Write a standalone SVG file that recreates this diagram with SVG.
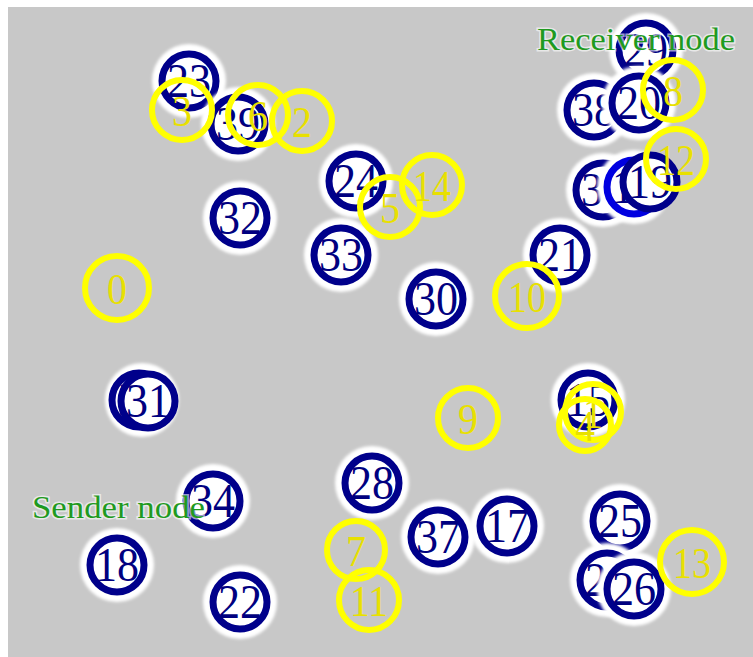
<svg xmlns="http://www.w3.org/2000/svg" width="753" height="657" viewBox="0 0 753 657">
<defs>
<filter id="soft" x="-20%" y="-20%" width="140%" height="140%"><feGaussianBlur stdDeviation="1.5"/></filter>
<style>
.halo{fill:#fff;filter:url(#soft)}
.bn{fill:#fff;stroke:#00008b;stroke-width:7}
.bt{font-family:"Liberation Serif",serif;font-size:48px;fill:#000080;text-anchor:middle}
.yn{fill:none;stroke:#ffff00;stroke-width:6}
.yt{font-family:"Liberation Serif",serif;font-size:44px;fill:#e8e000;text-anchor:middle}
.lab{font-family:"Liberation Serif",serif;fill:#1f9a1f;stroke:#fff;stroke-opacity:0.6;stroke-width:3;paint-order:stroke}
</style>
</defs>
<rect x="0" y="0" width="753" height="657" fill="#fff"/>
<rect x="8" y="7" width="745" height="650" fill="#c8c8c8"/>
<g id="connectors"/>
<g id="blue-nodes">
<g id="n23"><circle class="halo" cx="189" cy="81" r="37"/><circle class="bn" cx="189" cy="81" r="27"/><text class="bt" x="189" y="97" textLength="44" lengthAdjust="spacingAndGlyphs">23</text></g>
<g id="n39"><circle class="halo" cx="238" cy="124" r="37"/><circle class="bn" cx="238" cy="124" r="27"/><text class="bt" x="238" y="140" textLength="44" lengthAdjust="spacingAndGlyphs">39</text></g>
<g id="n32"><circle class="halo" cx="240" cy="218" r="37"/><circle class="bn" cx="240" cy="218" r="27"/><text class="bt" x="240" y="234" textLength="44" lengthAdjust="spacingAndGlyphs">32</text></g>
<g id="n24"><circle class="halo" cx="356" cy="181" r="37"/><circle class="bn" cx="356" cy="181" r="27"/><text class="bt" x="356" y="197" textLength="44" lengthAdjust="spacingAndGlyphs">24</text></g>
<g id="n33"><circle class="halo" cx="341" cy="255" r="37"/><circle class="bn" cx="341" cy="255" r="27"/><text class="bt" x="341" y="271" textLength="44" lengthAdjust="spacingAndGlyphs">33</text></g>
<g id="n30"><circle class="halo" cx="436" cy="299" r="37"/><circle class="bn" cx="436" cy="299" r="27"/><text class="bt" x="436" y="315" textLength="44" lengthAdjust="spacingAndGlyphs">30</text></g>
<g id="n21"><circle class="halo" cx="560" cy="255" r="37"/><circle class="bn" cx="560" cy="255" r="27"/><text class="bt" x="560" y="271" textLength="44" lengthAdjust="spacingAndGlyphs">21</text></g>
<g id="n29"><circle class="halo" cx="646" cy="50" r="37"/><circle class="bn" cx="646" cy="50" r="27"/><text class="bt" x="646" y="66" textLength="44" lengthAdjust="spacingAndGlyphs">29</text></g>
<g id="n38"><circle class="halo" cx="594" cy="110" r="37"/><circle class="bn" cx="594" cy="110" r="27"/><text class="bt" x="594" y="126" textLength="44" lengthAdjust="spacingAndGlyphs">38</text></g>
<g id="n20"><circle class="halo" cx="639" cy="103" r="37"/><circle class="bn" cx="639" cy="103" r="27"/><text class="bt" x="639" y="119" textLength="44" lengthAdjust="spacingAndGlyphs">20</text></g>
<g id="n36"><circle class="halo" cx="603" cy="190" r="37"/><circle class="bn" cx="603" cy="190" r="27"/><text class="bt" x="603" y="206" textLength="44" lengthAdjust="spacingAndGlyphs">36</text></g>
<g id="n16"><circle class="halo" cx="634" cy="187" r="37"/><circle class="bn" cx="634" cy="187" r="27" style="stroke:#0000e0"/><text class="bt" x="634" y="203" textLength="44" lengthAdjust="spacingAndGlyphs">16</text></g>
<g id="n19"><circle class="bn" cx="650" cy="182" r="27"/><text class="bt" x="650" y="198" textLength="44" lengthAdjust="spacingAndGlyphs">19</text></g>
<g id="n35"><circle class="halo" cx="142" cy="400" r="37"/><circle class="bn" cx="139" cy="400" r="27"/><text class="bt" x="140" y="416" textLength="44" lengthAdjust="spacingAndGlyphs">35</text></g>
<g id="n31"><circle class="bn" cx="148" cy="401" r="27"/><text class="bt" x="148" y="417" textLength="44" lengthAdjust="spacingAndGlyphs">31</text></g>
<g id="n15"><circle class="halo" cx="588" cy="400" r="37"/><circle class="bn" cx="588" cy="400" r="27"/><text class="bt" x="588" y="416" textLength="44" lengthAdjust="spacingAndGlyphs">15</text></g>
<g id="n28"><circle class="halo" cx="372" cy="483" r="37"/><circle class="bn" cx="372" cy="483" r="27"/><text class="bt" x="372" y="499" textLength="44" lengthAdjust="spacingAndGlyphs">28</text></g>
<g id="n34"><circle class="halo" cx="213" cy="501" r="37"/><circle class="bn" cx="213" cy="501" r="27"/><text class="bt" x="213" y="517" textLength="44" lengthAdjust="spacingAndGlyphs">34</text></g>
<g id="n18"><circle class="halo" cx="117" cy="565" r="37"/><circle class="bn" cx="117" cy="565" r="27"/><text class="bt" x="117" y="581" textLength="44" lengthAdjust="spacingAndGlyphs">18</text></g>
<g id="n22"><circle class="halo" cx="240" cy="602" r="37"/><circle class="bn" cx="240" cy="602" r="27"/><text class="bt" x="240" y="618" textLength="44" lengthAdjust="spacingAndGlyphs">22</text></g>
<g id="n37"><circle class="halo" cx="438" cy="537" r="37"/><circle class="bn" cx="438" cy="537" r="27"/><text class="bt" x="438" y="553" textLength="44" lengthAdjust="spacingAndGlyphs">37</text></g>
<g id="n17"><circle class="halo" cx="507" cy="526" r="37"/><circle class="bn" cx="507" cy="526" r="27"/><text class="bt" x="507" y="542" textLength="44" lengthAdjust="spacingAndGlyphs">17</text></g>
<g id="n25"><circle class="halo" cx="620" cy="521" r="37"/><circle class="bn" cx="620" cy="521" r="27"/><text class="bt" x="620" y="537" textLength="44" lengthAdjust="spacingAndGlyphs">25</text></g>
<g id="n27"><circle class="halo" cx="607" cy="580" r="37"/><circle class="bn" cx="607" cy="580" r="27"/><text class="bt" x="607" y="596" textLength="44" lengthAdjust="spacingAndGlyphs">27</text></g>
<g id="n26"><circle class="halo" cx="634" cy="589" r="37"/><circle class="bn" cx="634" cy="589" r="27"/><text class="bt" x="634" y="605" textLength="44" lengthAdjust="spacingAndGlyphs">26</text></g>
</g>
<g id="yellow-nodes">
<g id="n0"><circle class="yn" cx="117" cy="288" r="32"/><text class="yt" x="117" y="304" textLength="20" lengthAdjust="spacingAndGlyphs">0</text></g>
<g id="n3"><circle class="yn" cx="182" cy="110" r="30"/><text class="yt" x="182" y="126" textLength="20" lengthAdjust="spacingAndGlyphs">3</text></g>
<g id="n6"><circle class="yn" cx="258" cy="115" r="30"/><text class="yt" x="258" y="131" textLength="20" lengthAdjust="spacingAndGlyphs">6</text></g>
<g id="n2"><circle class="yn" cx="302" cy="121" r="30"/><text class="yt" x="302" y="137" textLength="20" lengthAdjust="spacingAndGlyphs">2</text></g>
<g id="n5"><circle class="yn" cx="390" cy="207" r="30"/><text class="yt" x="390" y="223" textLength="20" lengthAdjust="spacingAndGlyphs">5</text></g>
<g id="n14"><circle class="yn" cx="432" cy="185" r="30"/><text class="yt" x="432" y="201" textLength="38" lengthAdjust="spacingAndGlyphs">14</text></g>
<g id="n8"><circle class="yn" cx="673" cy="90" r="30"/><text class="yt" x="673" y="106" textLength="20" lengthAdjust="spacingAndGlyphs">8</text></g>
<g id="n12"><circle class="yn" cx="676" cy="159" r="30"/><text class="yt" x="676" y="175" textLength="38" lengthAdjust="spacingAndGlyphs">12</text></g>
<g id="n10"><circle class="yn" cx="527" cy="296" r="32"/><text class="yt" x="527" y="312" textLength="38" lengthAdjust="spacingAndGlyphs">10</text></g>
<g id="n9"><circle class="yn" cx="468" cy="418" r="30"/><text class="yt" x="468" y="434" textLength="20" lengthAdjust="spacingAndGlyphs">9</text></g>
<g id="n1"><circle class="yn" cx="593" cy="412" r="28"/><text class="yt" x="593" y="428" textLength="20" lengthAdjust="spacingAndGlyphs">1</text></g>
<g id="n4"><circle class="yn" cx="585" cy="425" r="26"/><text class="yt" x="585" y="441" textLength="20" lengthAdjust="spacingAndGlyphs">4</text></g>
<g id="n7"><circle class="yn" cx="356" cy="550" r="29"/><text class="yt" x="356" y="566" textLength="20" lengthAdjust="spacingAndGlyphs">7</text></g>
<g id="n11"><circle class="yn" cx="369" cy="600" r="30"/><text class="yt" x="369" y="616" textLength="38" lengthAdjust="spacingAndGlyphs">11</text></g>
<g id="n13"><circle class="yn" cx="692" cy="562" r="32"/><text class="yt" x="692" y="578" textLength="38" lengthAdjust="spacingAndGlyphs">13</text></g>
</g>
<g id="labels">
<text class="lab" x="537" y="50" font-size="32" textLength="198" lengthAdjust="spacingAndGlyphs">Receiver node</text>
<text class="lab" x="32" y="518" font-size="31" textLength="173" lengthAdjust="spacingAndGlyphs">Sender node</text>
</g>
</svg>
